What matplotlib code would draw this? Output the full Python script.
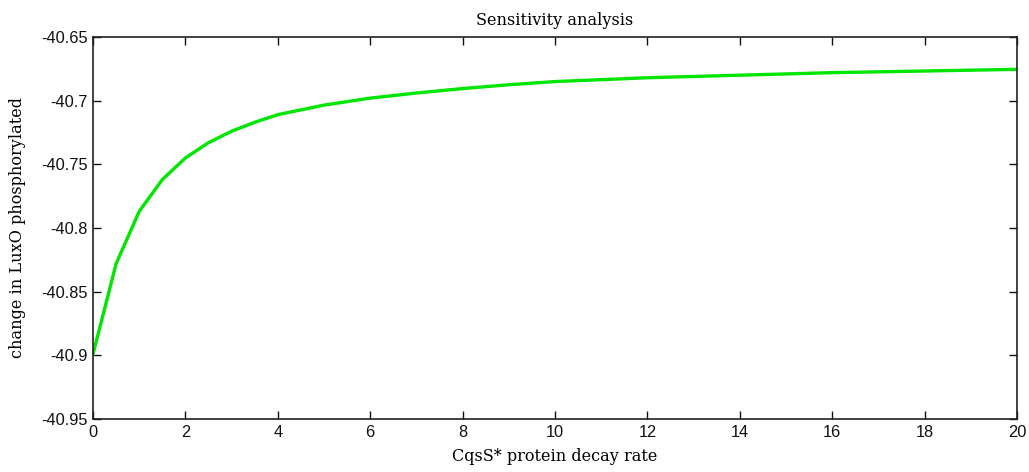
import matplotlib
matplotlib.use('Agg')
import matplotlib.pyplot as plt
import numpy as np

# decay rate vs change in LuxO phosphorylated
decay_rate = [0, 0.5, 1, 1.5, 2, 2.5, 3, 3.5, 4, 5, 6, 7, 8, 9, 10,
              12, 14, 16, 18, 20]
luxo_change = [-40.899, -40.828, -40.787, -40.762, -40.745, -40.733,
               -40.724, -40.717, -40.711, -40.7035, -40.698, -40.694,
               -40.6905, -40.6875, -40.685, -40.682, -40.680, -40.678,
               -40.6767, -40.6754]

xticks = np.arange(0, 21, 2)
yticks = [-40.95, -40.9, -40.85, -40.8, -40.75, -40.7, -40.65]
ytick_labels = ['-40.95', '-40.9', '-40.85', '-40.8', '-40.75', '-40.7', '-40.65']

fig = plt.figure(figsize=(10.29, 4.72), dpi=100)
ax = fig.add_axes([0.0904, 0.1123, 0.8979, 0.8093])

ax.plot(decay_rate, luxo_change, color='#00e600', lw=2.4)

ax.set_xlim(0, 20)
ax.set_ylim(-40.95, -40.65)
ax.set_xticks(xticks)
ax.set_yticks(yticks)
ax.set_yticklabels(ytick_labels)
ax.tick_params(direction='in', top=True, right=True, length=5.5, width=1,
               labelsize=11.8, pad=4, colors='#111111')
for lab in ax.get_xticklabels() + ax.get_yticklabels():
    lab.set_family('Liberation Sans')
for s in ax.spines.values():
    s.set_linewidth(1.2)
    s.set_color('#202020')

ax.set_title('Sensitivity analysis', family='DejaVu Serif', fontsize=11.6, pad=9)
ax.set_xlabel('CqsS* protein decay rate', family='DejaVu Serif', fontsize=11.6, labelpad=6)
ax.set_ylabel('change in LuxO phosphorylated', family='DejaVu Serif', fontsize=11.6, labelpad=11)

fig.savefig('out.png', dpi=100)
